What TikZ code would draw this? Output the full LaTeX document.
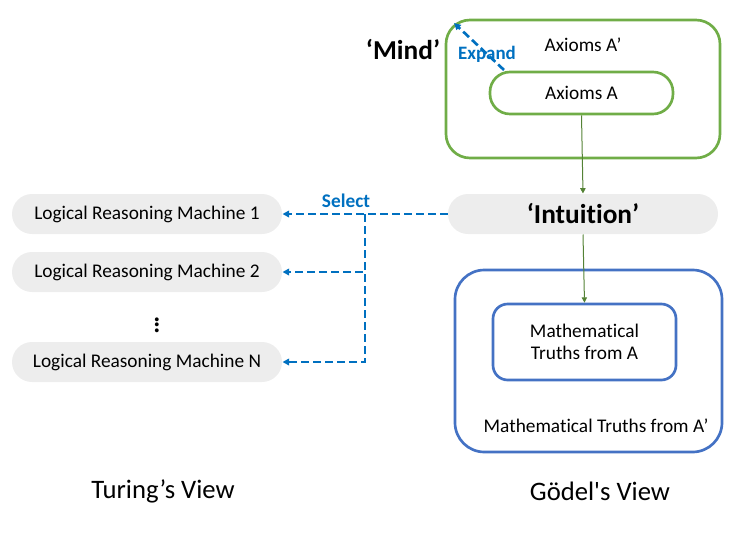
\documentclass[tikz,border=0pt]{standalone}
\usepackage{fontspec}
\setmainfont{Carlito}[Ligatures={TeX,NoCommon}]
\usetikzlibrary{arrows.meta}

\definecolor{mindgreen}{HTML}{70AD47}
\definecolor{arrowgreen}{HTML}{548235}
\definecolor{truthblue}{HTML}{4472C4}
\definecolor{selblue}{HTML}{0070C0}
\definecolor{pillgray}{HTML}{EDEDED}

\tikzset{every picture/.style={line width=0.75pt}}
\tikzset{
  pill/.style={fill=pillgray, rounded corners=15pt, minimum width=202.5pt, minimum height=30pt, inner sep=0pt, font=\fontsize{14.5}{17}\selectfont},
  selarrow/.style={draw=selblue, line width=2pt, dash pattern=on 6pt off 3pt, -{Triangle[length=5pt,width=5pt]}},
  feedarrow/.style={draw=arrowgreen, line width=0.75pt, -{Triangle[length=4pt,width=4pt]}}
}

\begin{document}
\begin{tikzpicture}[x=0.75pt,y=0.75pt,yscale=-1,xscale=1]
\useasboundingbox (0,0) rectangle (750,536);

% Goedel side
\node (mind) at (583,89) [draw=mindgreen, line width=2pt, rounded corners=18pt, minimum width=205.5pt, minimum height=103.5pt] {};
\node (axA) at (581.5,93) [draw=mindgreen, line width=2pt, rounded corners=15pt, minimum width=137.25pt, minimum height=31.5pt, font=\fontsize{14.5}{17}\selectfont] {Axioms A};
\node (axAp) at (583,45) [font=\fontsize{14.5}{17}\selectfont] {Axioms A’};
\node (mindlbl) at (403,50) [font=\fontsize{20.5}{24}\selectfont\bfseries] {‘Mind’};

\node (intuit) at (583,214) [pill, font=\fontsize{20.5}{24}\selectfont\bfseries] {‘Intuition’};

\node (truthsOut) at (588.5,361) [draw=truthblue, line width=2pt, rounded corners=22pt, minimum width=200.25pt, minimum height=136.5pt] {};
\node (truthsIn) at (584.5,342) [draw=truthblue, line width=2pt, rounded corners=11pt, minimum width=137.25pt, minimum height=57pt, align=center, font=\fontsize{14.5}{17}\selectfont] {Mathematical\\Truths from A};
\node (truthsOutLbl) at (596,426) [font=\fontsize{14.5}{17}\selectfont] {Mathematical Truths from A’};

% Turing side
\node (lrm1) at (147,214) [pill] {Logical Reasoning Machine 1};
\node (lrm2) at (147,272) [pill] {Logical Reasoning Machine 2};
\node (dots) at (157,321) [font=\fontsize{24}{26}\selectfont] {$\vdots$};
\node (lrmN) at (147,362) [pill] {Logical Reasoning Machine N};

\node (turing) at (163,491) [font=\fontsize{20}{24}\selectfont] {Turing’s View};
\node (goedel) at (600,491) [font=\fontsize{20}{24}\selectfont] {Gödel\textquotesingle s View};

% connectors
\draw [feedarrow] (axA.south) -- (intuit.north);
\draw [feedarrow] (intuit.south) -- (truthsIn.north);

\coordinate (expTail) at (504,70);
\coordinate (expHead) at (454,23);
\draw [selarrow] (expTail) -- (expHead);
\node (expand) at (487,54) [text=selblue, font=\fontsize{14.2}{17}\selectfont\bfseries] {Expand};

\coordinate (fork) at (365,214);
\draw [selarrow] (intuit.west) -- (lrm1.east);
\draw [selarrow] (fork) |- (lrm2.east);
\draw [selarrow] (fork) |- (lrmN.east);
\node (select) at (346,201) [text=selblue, font=\fontsize{14.5}{17}\selectfont\bfseries] {Select};

\end{tikzpicture}
\end{document}
